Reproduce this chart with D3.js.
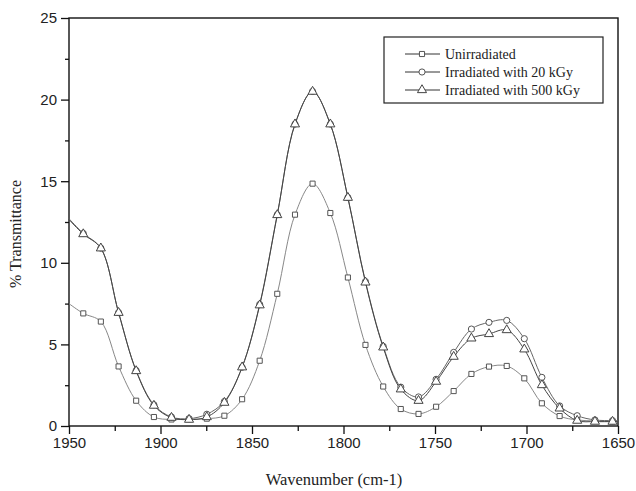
<!DOCTYPE html>
<html><head><meta charset="utf-8">
<script src="https://cdn.jsdelivr.net/npm/d3@7"></script>
<style>body{margin:0;background:#fff}svg{display:block}</style>
</head><body>
<svg id="c" width="636" height="491"></svg>
<script>
// Wavenumbers at the marker positions (cm-1)
const wavenumbers = [1942.2, 1932.6, 1922.9, 1913.3, 1903.6, 1894.0, 1884.4, 1874.7, 1865.1, 1855.4, 1845.8,
  1836.2, 1826.5, 1816.9, 1807.2, 1797.6, 1788.0, 1778.3, 1768.7, 1759.0, 1749.4, 1739.8, 1730.1, 1720.5,
  1710.8, 1701.2, 1691.6, 1681.9, 1672.3, 1662.6, 1653.0];
// Curve end points (no markers)
const edgeWavenumbers = [1950, 1650];
const unirradiated = [6.9, 6.4, 3.65, 1.55, 0.55, 0.4, 0.42, 0.45, 0.63, 1.64, 4.0, 8.1, 12.95, 14.85, 13.05, 9.1,
  4.97, 2.42, 1.04, 0.74, 1.18, 2.14, 3.19, 3.64, 3.68, 2.92, 1.39, 0.61, 0.37, 0.31, 0.27];
const unirradiatedEdges = [7.5, 0.27];
const irradiated20 = [11.8, 10.9, 6.95, 3.4, 1.3, 0.55, 0.45, 0.72, 1.5, 3.6, 7.45, 12.95, 18.5, 20.5, 18.5, 14.0,
  8.85, 4.88, 2.38, 1.78, 2.86, 4.51, 5.94, 6.35, 6.47, 5.35, 2.98, 1.23, 0.63, 0.37, 0.33];
const irradiated20Edges = [12.7, 0.33];
const irradiated500 = [11.76, 10.89, 6.94, 3.37, 1.25, 0.51, 0.39, 0.55, 1.43, 3.6, 7.4, 12.93, 18.49, 20.49, 18.49,
  13.99, 8.8, 4.82, 2.25, 1.55, 2.72, 4.25, 5.37, 5.64, 5.88, 4.7, 2.51, 1.08, 0.33, 0.27, 0.27];
const irradiated500Edges = [12.65, 0.27];
const seriesNames = ["Unirradiated", "Irradiated with 20 kGy", "Irradiated with 500 kGy"];
const xTicks = [1950, 1900, 1850, 1800, 1750, 1700, 1650];
const yTicks = [0, 5, 10, 15, 20, 25];

const svg = d3.select("#c");
const L = 69, R = 618, T = 18, B = 426;
const x = d3.scaleLinear().domain([1950, 1650]).range([L, R]);
const y = d3.scaleLinear().domain([0, 25]).range([B, T]);

// axes
const xAxis = d3.axisBottom(x).tickValues(xTicks).tickFormat(d3.format("d")).tickSize(8).tickPadding(3);
const xMinor = d3.axisBottom(x).tickValues(d3.range(1925, 1650, -50)).tickFormat("").tickSize(5);
const yAxis = d3.axisLeft(y).tickValues(yTicks).tickSize(8).tickPadding(4);
const yMinor = d3.axisLeft(y).tickValues(d3.range(2.5, 25, 5)).tickFormat("").tickSize(4);

function styleAxis(g) {
  g.select(".domain").remove();
  g.selectAll("line").attr("stroke", "#111").attr("stroke-width", 1.3);
  g.selectAll("text").attr("font-family", "Liberation Sans, Arial, sans-serif").attr("font-size", 15).attr("fill", "#222");
}
svg.append("g").attr("transform", `translate(0,${B})`).call(xAxis).call(styleAxis);
svg.append("g").attr("transform", `translate(0,${B})`).call(xMinor).call(styleAxis);
svg.append("g").attr("transform", `translate(${L},0)`).call(yAxis).call(styleAxis);
svg.append("g").attr("transform", `translate(${L},0)`).call(yMinor).call(styleAxis);

svg.append("rect").attr("x", L).attr("y", T).attr("width", R - L).attr("height", B - T)
  .attr("fill", "none").attr("stroke", "#111").attr("stroke-width", 1.4);

// titles
svg.append("text").attr("x", 334).attr("y", 485).attr("text-anchor", "middle")
  .attr("font-family", "Liberation Serif, Times New Roman, serif").attr("font-size", 16.5).attr("fill", "#222")
  .text("Wavenumber (cm-1)");
svg.append("text").attr("transform", "translate(21,234) rotate(-90)").attr("text-anchor", "middle")
  .attr("font-family", "Liberation Serif, Times New Roman, serif").attr("font-size", 16).attr("fill", "#222")
  .text("% Transmittance");

const sym = [d3.symbolSquare, d3.symbolCircle, d3.symbolTriangle];
const symSize = [26, 30, 36];
const lineColors = ["#888", "#666", "#444"];
const markerColors = ["#555", "#555", "#444"];
const series = [
  {vals: unirradiated, edges: unirradiatedEdges},
  {vals: irradiated20, edges: irradiated20Edges},
  {vals: irradiated500, edges: irradiated500Edges}
];
const line = d3.line().x(d => x(d[0])).y(d => y(d[1])).curve(d3.curveCatmullRom.alpha(0.5));

series.forEach((s, k) => {
  const pts = [[edgeWavenumbers[0], s.edges[0]]]
    .concat(wavenumbers.map((w, i) => [w, s.vals[i]]))
    .concat([[edgeWavenumbers[1], s.edges[1]]]);
  svg.append("path").datum(pts).attr("d", line).attr("fill", "none")
    .attr("stroke", lineColors[k]).attr("stroke-width", 1);
});
series.forEach((s, k) => {
  svg.append("g").selectAll("path").data(wavenumbers.map((w, i) => [w, s.vals[i]])).join("path")
    .attr("transform", d => `translate(${x(d[0])},${y(d[1])})`)
    .attr("d", d3.symbol().type(sym[k]).size(symSize[k]))
    .attr("fill", "#fff").attr("stroke", markerColors[k]).attr("stroke-width", 1);
});

// legend
const lg = svg.append("g");
lg.append("rect").attr("x", 384).attr("y", 37).attr("width", 219).attr("height", 66)
  .attr("fill", "#fff").attr("stroke", "#222").attr("stroke-width", 1.2);
seriesNames.forEach((n, k) => {
  const yy = 54 + k * 18;
  lg.append("line").attr("x1", 405).attr("x2", 440).attr("y1", yy).attr("y2", yy)
    .attr("stroke", "#333").attr("stroke-width", 1);
  lg.append("path").attr("transform", `translate(422,${yy})`)
    .attr("d", d3.symbol().type(sym[k]).size(symSize[k]))
    .attr("fill", "#fff").attr("stroke", markerColors[k]).attr("stroke-width", 1);
  lg.append("text").attr("x", 445).attr("y", yy + 5)
    .attr("font-family", "Liberation Serif, Times New Roman, serif").attr("font-size", 14).attr("fill", "#222")
    .text(n);
});
</script>
</body></html>
